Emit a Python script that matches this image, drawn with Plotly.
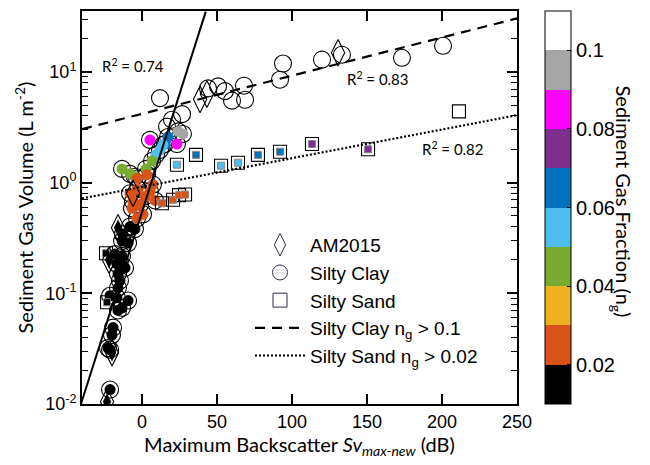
import plotly.graph_objects as go

# ---------------- data ----------------
# Silty clay (circles): x = Sv max-new (dB), y = gas volume (L m^-2), ng = gas fraction
clay_x = [12, 44, 50.7, 55.3, 60, 68, 68.7, 92, 94, 120, 133.3, 173.3, 200.7, 20, 26.7, 16.7,
          27.3, 24,
          5.3, 23.3,
          17.3, 15.3,
          12, 9.3, 14,
          -13.3, -4.7, 2.7, 6.7, -8,
          -3.3, 3.3, -6, -1.3, -6.7, 0.7, -3.3, 5.3, 7.3, 8.7, -2.7, 2, -8,
          -13.3, -9.3, -4.7, -12.7, -14.7, -11.3, -16, -14.7, -16, -21.3, -16.7, -9.3, -13.3, -16,
          -19.3, -20, -22.7, -21.3, -21.3, -18, -13.3, -16.7, -8]
clay_y = [5.8, 7.1, 7.4, 6.7, 5.5, 7.5, 5.6, 8.5, 11.9, 12.9, 14.3, 13.4, 17.2, 3.7, 4.15, 3.2,
          2.75, 2.9,
          2.43, 2.23,
          2.58, 2.23,
          1.97, 1.78, 2.19,
          1.33, 1.13, 1.33, 1.57, 1.2,
          1.09, 1.18, 0.676, 0.635, 0.585, 0.517, 0.476, 0.83, 0.96, 0.69, 0.87, 0.75, 0.80,
          0.296, 0.284, 0.38, 0.342, 0.196, 0.17, 0.15, 0.13, 0.112, 0.095, 0.091, 0.086, 0.074, 0.07,
          0.049, 0.042, 0.032, 0.031, 0.0135, 0.226, 0.218, 0.184, 0.4]
clay_ng = [0.12] * 16 + [0.095] * 2 + [0.085] * 2 + [0.065] * 2 + [0.055] * 3 + [0.045] * 5 \
          + [0.025] * 13 + [0.015] * 23

# Silty sand (squares)
sand_x = [211.3, 113.3, 150.7, 36, 77.3, 92, 23.3, 52.7, 64, 13.3, 20.7, 24.7, 28.7, -24, -23.3]
sand_y = [4.4, 2.23, 2.0, 1.78, 1.78, 1.9, 1.45, 1.42, 1.51, 0.65, 0.70, 0.77, 0.78, 0.23, 0.083]
sand_ng = [0.12, 0.075, 0.075, 0.065, 0.065, 0.065, 0.055, 0.055, 0.055,
           0.025, 0.025, 0.025, 0.025, 0.015, 0.015]

# AM2015 (diamonds)
am_x = [38.7, 43.3, 130.7, -16, -20, -23.3, -22, -6]
am_y = [5.65, 6.3, 14.9, 0.39, 0.029, 0.0105, 0.2, 0.8]
am_ng = [0.12, 0.12, 0.12, 0.015, 0.015, 0.015, 0.015, 0.025]

# Fits: log10(V) = a + b * Sv  -> [a, b], with plotted Sv span
fit_all = [-0.266, 0.0426]
fit_all_span = [-40.7, 42.5]
fit_clay = [0.621, 0.003448]
fit_clay_span = [-40, 250]
fit_sand = [-0.039, 0.002593]
fit_sand_span = [-40, 250]
r2_labels = ["R<sup>2</sup> = 0.74", "R<sup>2</sup> = 0.83", "R<sup>2</sup> = 0.82"]
r2_pos_x = [-6, 157, 207]
r2_pos_logy = [1.056, 0.94, 0.304]

cbar_colors = ["#000000", "#D95319", "#EDB120", "#77AC30", "#4DBEEE",
               "#0072BD", "#7E2F8E", "#FF00FF", "#A6A6A6", "#FFFFFF"]
cbar_ticks = [0.02, 0.04, 0.06, 0.08, 0.1]
cbar_ticktext = ["0.02", "0.04", "0.06", "0.08", "0.1"]
x_ticks = [0, 50, 100, 150, 200, 250]
y_ticks = [0.01, 0.1, 1, 10]
y_ticktext = ["10<sup>-2</sup>", "10<sup>-1</sup>", "10<sup>0</sup>", "10<sup>1</sup>"]

# ---------------- figure ----------------
CMIN, CMAX = 0.01, 0.11
cscale = []
n = len(cbar_colors)
for i, c in enumerate(cbar_colors):
    cscale.append([i / n, c])
    cscale.append([(i + 1) / n, c])

TICKFONT = dict(family="Liberation Sans, Arial", size=18, color="black")
TITLEFONT = dict(family="Lato, Open Sans", size=20, color="black")

fig = go.Figure()


def add_group(xs, ys, ngs, outer_sym, inner_sym, outer_size, inner_size, inner_line, show_cbar):
    # outline (all points)
    fig.add_trace(go.Scatter(
        x=xs, y=ys, mode="markers", showlegend=False, hoverinfo="skip",
        marker=dict(symbol=outer_sym, size=outer_size, color="black",
                    line=dict(color="black", width=1.1))))
    # coloured fill (only coloured classes; white ones are left open)
    fx = [x for x, g in zip(xs, ngs) if g < 0.1]
    fy = [y for y, g in zip(ys, ngs) if g < 0.1]
    fg = [g for g in ngs if g < 0.1]
    mk = dict(symbol=inner_sym, size=inner_size, color=fg, colorscale=cscale,
              cmin=CMIN, cmax=CMAX, line=inner_line, showscale=show_cbar)
    if show_cbar:
        mk["colorbar"] = dict(
            x=(545 - 82) / 435, xanchor="left", xref="paper", xpad=0,
            y=0.5, yanchor="middle", len=1.0, lenmode="fraction", ypad=0,
            thickness=26, thicknessmode="pixels",
            outlinecolor="black", outlinewidth=1,
            tickmode="array", tickvals=cbar_ticks, ticktext=cbar_ticktext,
            ticks="inside", ticklen=4, tickcolor="black",
            tickfont=dict(family="Liberation Sans, Arial", size=20, color="black"),
        )
    fig.add_trace(go.Scatter(x=fx, y=fy, mode="markers", showlegend=False,
                             hoverinfo="skip", marker=mk))


add_group(clay_x, clay_y, clay_ng, "circle-open", "circle", 17, 11,
          dict(width=0), True)
add_group(sand_x, sand_y, sand_ng, "square-open", "square", 13, 7,
          dict(width=1, color="#888888"), False)
add_group(am_x, am_y, am_ng, "diamond-tall-open", "diamond-tall", 19, 12,
          dict(width=0), False)


def fit_line(params, span, n_pts=60):
    xs = [span[0] + (span[1] - span[0]) * i / (n_pts - 1) for i in range(n_pts)]
    ys = [10 ** (params[0] + params[1] * x) for x in xs]
    return xs, ys


lx, ly = fit_line(fit_all, fit_all_span)
fig.add_trace(go.Scatter(x=lx, y=ly, mode="lines", showlegend=False, hoverinfo="skip",
                         line=dict(color="black", width=2)))
lx, ly = fit_line(fit_clay, fit_clay_span)
fig.add_trace(go.Scatter(x=lx, y=ly, mode="lines", showlegend=False, hoverinfo="skip",
                         line=dict(color="black", width=2.2, dash="10px,7px")))
lx, ly = fit_line(fit_sand, fit_sand_span)
fig.add_trace(go.Scatter(x=lx, y=ly, mode="lines", showlegend=False, hoverinfo="skip",
                         line=dict(color="black", width=2.2, dash="2px,2px")))

# legend-only entries
LEG = "#2b2f45"
fig.add_trace(go.Scatter(x=[None], y=[None], mode="markers", name="AM2015",
                         marker=dict(symbol="diamond-tall-open", size=16, color=LEG,
                                     line=dict(width=1, color=LEG))))
fig.add_trace(go.Scatter(x=[None], y=[None], mode="markers", name="Silty Clay",
                         marker=dict(symbol="circle-open", size=15, color=LEG,
                                     line=dict(width=1, color=LEG))))
fig.add_trace(go.Scatter(x=[None], y=[None], mode="markers", name="Silty Sand",
                         marker=dict(symbol="square-open", size=14, color=LEG,
                                     line=dict(width=1, color=LEG))))
fig.add_trace(go.Scatter(x=[None], y=[None], mode="lines",
                         name="Silty Clay n<sub>g</sub> &gt; 0.1",
                         line=dict(color="black", width=2.2, dash="10px,7px")))
fig.add_trace(go.Scatter(x=[None], y=[None], mode="lines",
                         name="Silty Sand n<sub>g</sub> &gt; 0.02",
                         line=dict(color="black", width=2, dash="2px,2px")))

for txt, ax_, ay_ in zip(r2_labels, r2_pos_x, r2_pos_logy):
    fig.add_annotation(x=ax_, y=ay_, xref="x", yref="y", text=txt, showarrow=False,
                       font=dict(family="Lato, Open Sans", size=15, color="black"))

fig.add_annotation(x=(638 - 82) / 435, y=1 - (200 - 9) / 395, xref="paper", yref="paper",
                   text="Sediment Gas Fraction (n<sub>g</sub>)", textangle=90,
                   showarrow=False, font=TITLEFONT)

fig.update_layout(
    width=650, height=465,
    margin=dict(l=82, r=133, t=9, b=61),
    paper_bgcolor="white", plot_bgcolor="white",
    showlegend=True,
    legend=dict(x=(250 - 82) / 435, y=1 - (225 - 9) / 395, xanchor="left", yanchor="top",
                bgcolor="rgba(0,0,0,0)", borderwidth=0, itemwidth=50,
                font=dict(family="Liberation Sans, Arial", size=19, color="black"),
                tracegroupgap=0),
    xaxis=dict(range=[-40, 250], tickmode="array", tickvals=x_ticks,
               ticks="inside", ticklen=10, tickwidth=1.8, tickcolor="black",
               showline=True, linewidth=2, linecolor="black", mirror="ticks",
               showgrid=False, zeroline=False, tickfont=TICKFONT,
               title=dict(text="Maximum Backscatter <i>Sv</i><sub><i>max-new</i></sub> (dB)",
                          font=TITLEFONT, standoff=6)),
    yaxis=dict(type="log", range=[-2, 1.55], tickmode="array", tickvals=y_ticks,
               ticktext=y_ticktext,
               ticks="inside", ticklen=10, tickwidth=1.8, tickcolor="black",
               minor=dict(dtick="D1", ticks="inside", ticklen=6, tickwidth=1.4,
                          tickcolor="black", showgrid=False),
               showline=True, linewidth=2, linecolor="black", mirror="ticks",
               showgrid=False, zeroline=False, tickfont=TICKFONT,
               title=dict(text="Sediment Gas Volume (L m<sup>-2</sup>)",
                          font=TITLEFONT, standoff=6)),
)

fig.write_html("out.html")
